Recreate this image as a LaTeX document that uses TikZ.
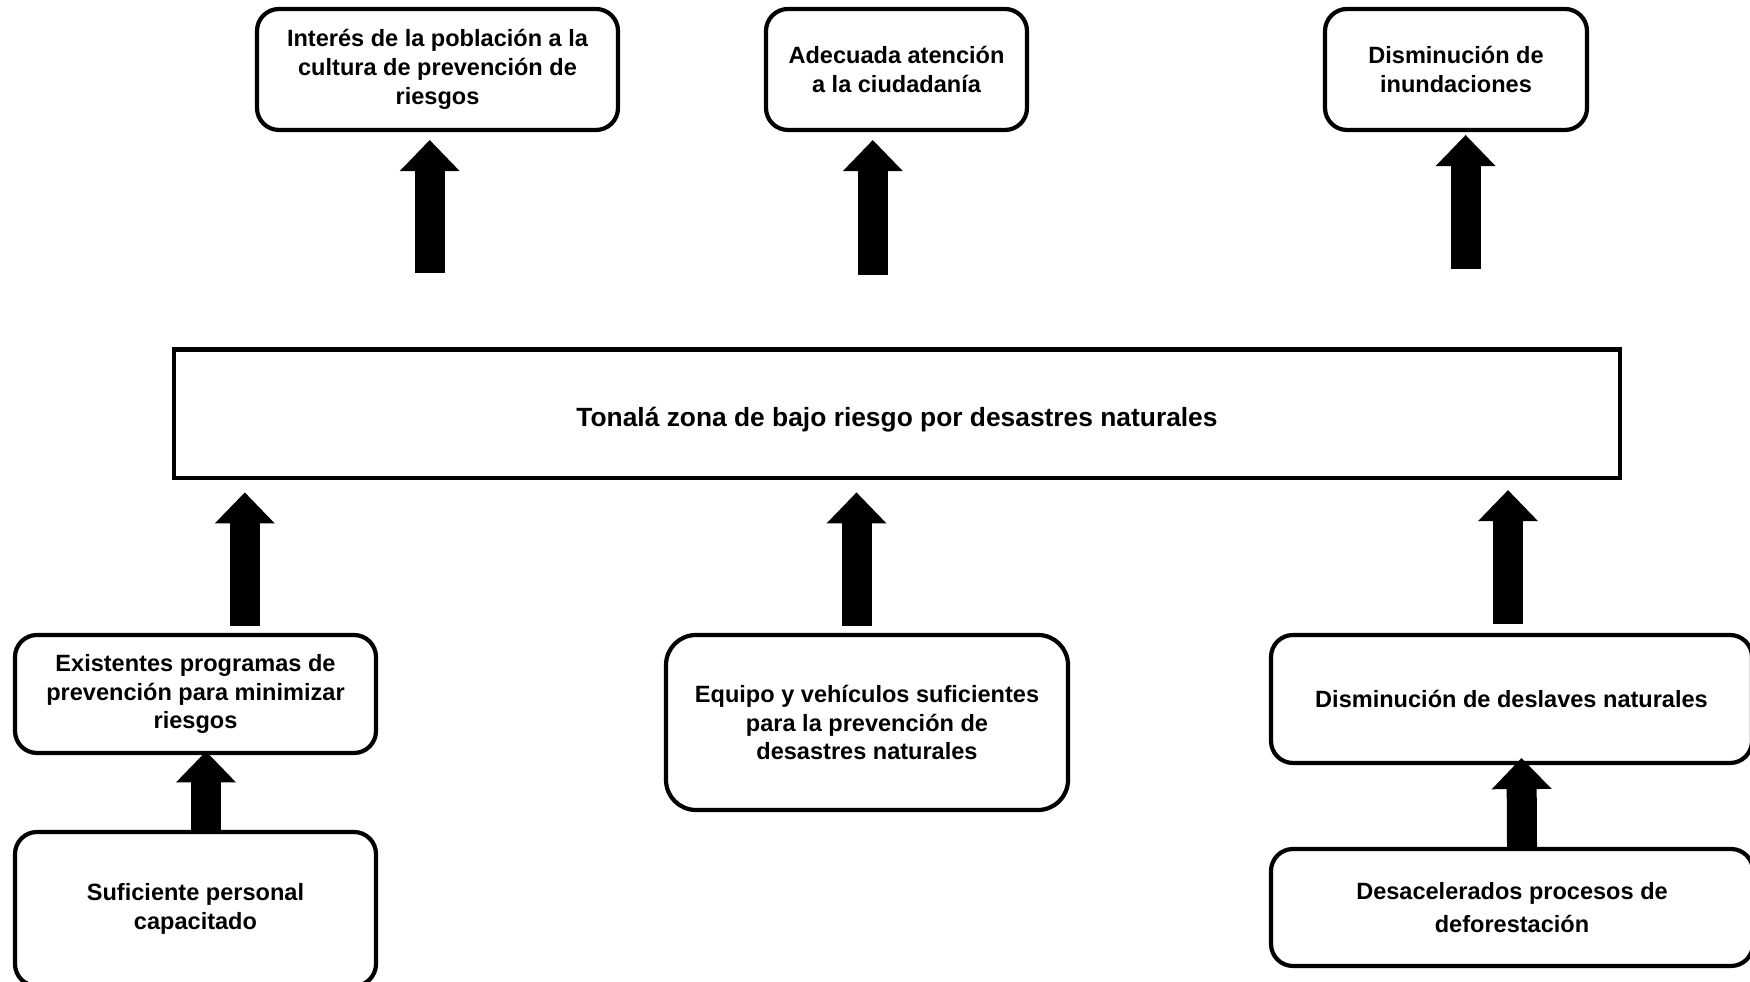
\documentclass[tikz,border=0pt]{standalone}
\usepackage{fontspec}
\setmainfont{Liberation Sans}
\usetikzlibrary{calc,arrows.meta}

\begin{document}
\begin{tikzpicture}[
	caja/.style={draw, line width=1.2pt, rounded corners=0.22cm, align=center, inner sep=0pt, font=\fontsize{6.7}{8.2}\selectfont\bfseries},
	central/.style={draw, line width=1.4pt, align=center, inner sep=0pt, font=\fontsize{7.5}{9}\selectfont\bfseries},
	flecha/.style={line width=0.3cm, -{Triangle[width=0.6cm, length=0.31cm, line width=0pt]}}
	]
			%%%%% START %%%%%
			
			\useasboundingbox (0, 0) rectangle (17.5, 9.82);
			
			% efectos
			\node[caja, minimum width=3.61cm, minimum height=1.21cm] (t1) at (4.375, 9.125) {Interés de la población a la\\cultura de prevención de\\riesgos};
			\node[caja, minimum width=2.61cm, minimum height=1.21cm] (t2) at (8.965, 9.125) {Adecuada atención\\a la ciudadanía};
			\node[caja, minimum width=2.62cm, minimum height=1.21cm] (t3) at (14.56, 9.125) {Disminución de\\inundaciones};
			
			\node[central, minimum width=14.46cm, minimum height=1.285cm, text height=0.32cm] (c) at (8.97, 5.6825) {Tonalá zona de bajo riesgo por desastres naturales};
			
			% medios
			\node[caja, minimum width=3.61cm, minimum height=1.18cm] (l1) at (1.955, 2.88) {Existentes programas de\\prevención para minimizar\\riesgos};
			\node[caja, minimum width=3.61cm, minimum height=1.54cm] (l2) at (1.955, 0.73) {Suficiente personal\\capacitado};
			\node[caja, rounded corners=0.3cm, minimum width=4.02cm, minimum height=1.75cm] (m) at (8.67, 2.595) {Equipo y vehículos suficientes\\para la prevención de\\desastres naturales};
			\node[caja, minimum width=4.81cm, minimum height=1.28cm] (r1) at (15.115, 2.83) {Disminución de deslaves naturales};
			\node[caja, font=\fontsize{6.7}{9.5}\selectfont\bfseries, minimum width=4.82cm, minimum height=1.17cm] (r2) at (15.12, 0.745) {Desacelerados procesos de\\deforestación};
			
			% flechas
			\draw[flecha] ($(c.north -| t1.south)+(-0.078, 0.745)$) -- ($(t1.south)+(-0.078, -0.08)$);
			\draw[flecha] ($(c.north -| t2.south)+(-0.237, 0.725)$) -- ($(t2.south)+(-0.237, -0.08)$);
			\draw[flecha] ($(c.north -| t3.south)+(0.096, 0.78)$) -- ($(t3.south)+(0.096, -0.03)$);
			
			\draw[flecha] ($(l1.north)+(0.493, 0.073)$) -- ($(c.south -| l1.north)+(0.493, -0.12)$);
			\draw[flecha] ($(m.north)+(-0.105, 0.07)$) -- ($(c.south -| m.north)+(-0.105, -0.12)$);
			\draw[flecha] ($(r1.north)+(-0.035, 0.09)$) -- ($(c.south -| r1.north)+(-0.035, -0.097)$);
			
			\draw[flecha] ($(l2.north)+(0.105, 0)$) -- ($(l1.south)+(0.105, 0.037)$);
			\draw[flecha] ($(r2.north)+(0.10, 0)$) -- ($(r1.south)+(0.10, 0.07)$);
			
			%%%%% END %%%%%
\end{tikzpicture}
\end{document}
